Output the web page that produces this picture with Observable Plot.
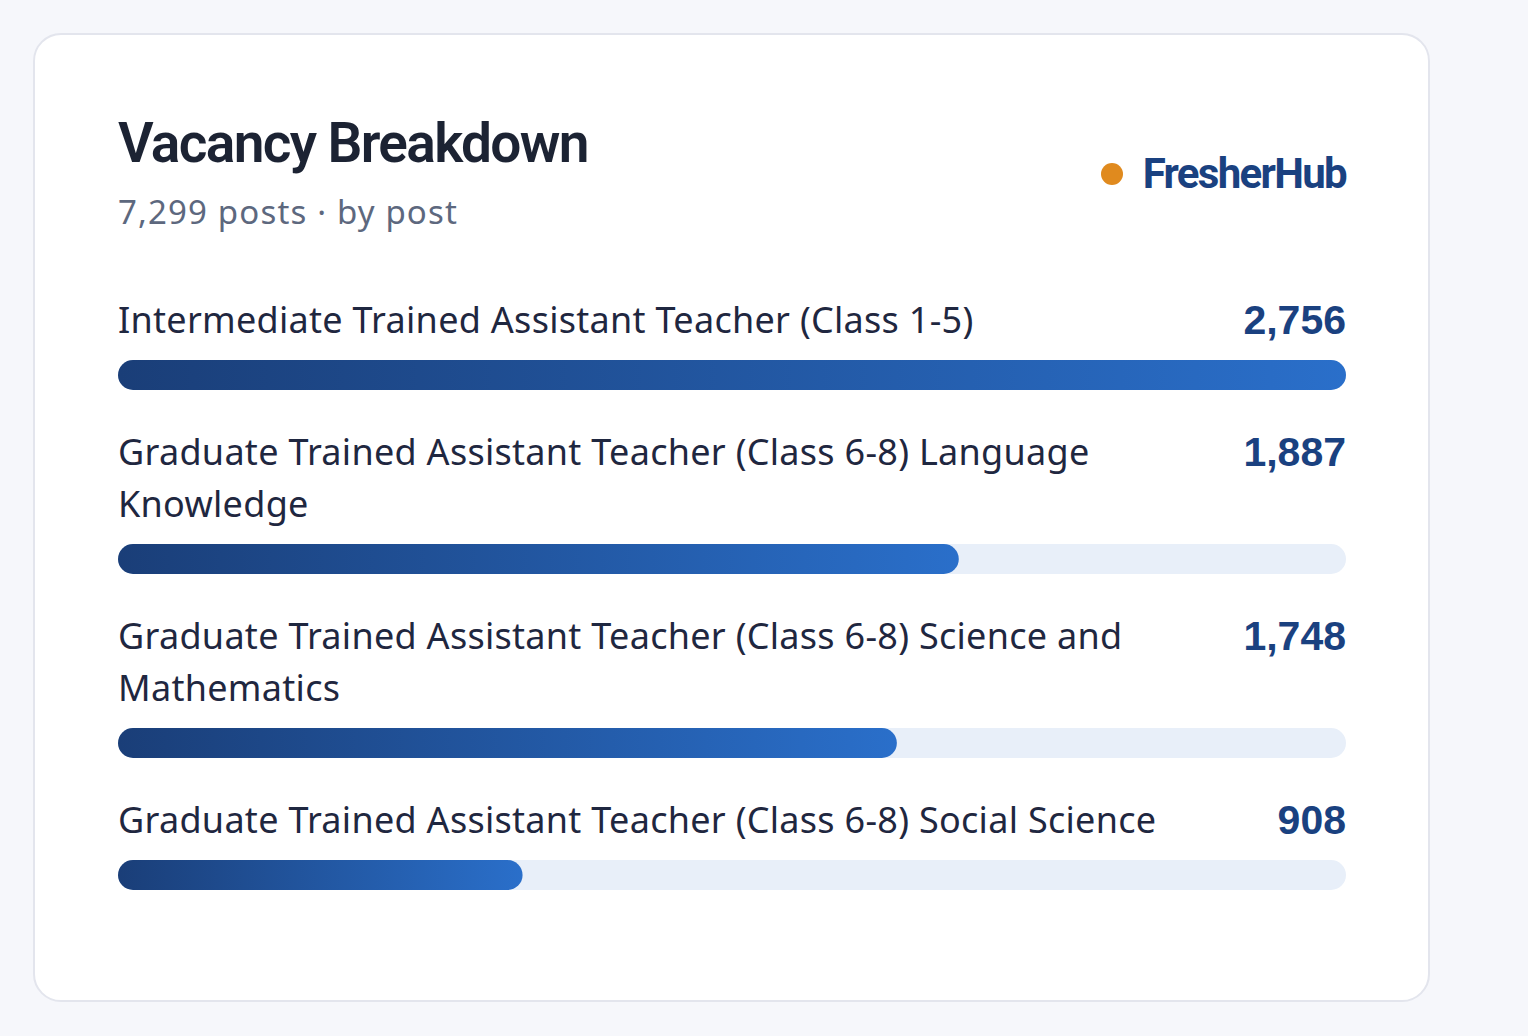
<!DOCTYPE html>
<html>
<head>
<meta charset="utf-8">
<script src="https://cdn.jsdelivr.net/npm/d3@7"></script>
<script src="https://cdn.jsdelivr.net/npm/@observablehq/plot@0.6"></script>
<style>
  html, body { margin: 0; padding: 0; background: #f6f7fb; }
  body { width: 1528px; height: 1036px; position: relative; overflow: hidden; }
  .card {
    position: absolute; left: 33px; top: 33px; width: 1397px; height: 969px;
    box-sizing: border-box; background: #fff; border: 2px solid #e3e5ed; border-radius: 28px;
    padding: 0 82px 0 83px;
  }
  .header { position: relative; height: 259px; }
  .title {
    position: absolute; left: 0; top: 80px; margin: 0;
    font-family: Roboto, "Liberation Sans", sans-serif; font-weight: 600; font-size: 55px;
    line-height: 56px; color: #1c2333; letter-spacing: -0.03em; white-space: nowrap;
  }
  .subtitle {
    position: absolute; left: 0; top: 157px;
    font-family: "Noto Sans", sans-serif; font-size: 33px; line-height: 40px; color: #5d687e;
    letter-spacing: 0.035em; white-space: nowrap;
  }
  .brand {
    position: absolute; right: 0; top: 114px; display: flex; align-items: center;
    font-family: Roboto, "Liberation Sans", sans-serif; font-weight: 700; font-size: 42px; line-height: 50px;
    color: #1a4180; letter-spacing: -0.04em; white-space: nowrap;
  }
  .brand .dot { width: 22px; height: 22px; border-radius: 50%; background: #e08a1e; margin-right: 20px; }
  .row { margin-bottom: 36px; }
  .row-head { display: flex; justify-content: space-between; align-items: flex-start; gap: 60px; margin-bottom: 14px; }
  .label {
    font-family: "Noto Sans", sans-serif; font-size: 36px; line-height: 52px; color: #1f2740;
    letter-spacing: 0.008em; flex: 1 1 auto; max-width: 1100px;
  }
  .value {
    font-family: "Liberation Sans", Arial, sans-serif; font-weight: 700; font-size: 41px; line-height: 52px;
    color: #1a4180; white-space: nowrap; flex: 0 0 auto;
  }
  .bar svg { display: block; }
</style>
</head>
<body>
<div class="card">
  <div class="header">
    <div class="title" id="title"></div>
    <div class="subtitle" id="subtitle"></div>
    <div class="brand"><span class="dot"></span><span id="brand"></span></div>
  </div>
  <div id="rows"></div>
</div>
<script>
const titleText = "Vacancy Breakdown";
const subtitleText = "7,299 posts · by post";
const brandText = "FresherHub";
const posts = [
  "Intermediate Trained Assistant Teacher (Class 1-5)",
  "Graduate Trained Assistant Teacher (Class 6-8) Language Knowledge",
  "Graduate Trained Assistant Teacher (Class 6-8) Science and Mathematics",
  "Graduate Trained Assistant Teacher (Class 6-8) Social Science"
];
const counts = [2756, 1887, 1748, 908];

document.getElementById("title").textContent = titleText;
document.getElementById("subtitle").textContent = subtitleText;
document.getElementById("brand").textContent = brandText;

const maxCount = d3.max(counts);
const fmt = d3.format(",");
const rowsEl = document.getElementById("rows");

posts.forEach((post, i) => {
  const row = document.createElement("div");
  row.className = "row";
  const head = document.createElement("div");
  head.className = "row-head";
  const lab = document.createElement("div");
  lab.className = "label";
  lab.textContent = post;
  const val = document.createElement("div");
  val.className = "value";
  val.textContent = fmt(counts[i]);
  head.appendChild(lab);
  head.appendChild(val);
  row.appendChild(head);

  const datum = [{post, count: counts[i], max: maxCount}];
  const gid = "barGrad" + i;
  const chart = Plot.plot({
    width: 1228,
    height: 30,
    margin: 0,
    style: {background: "transparent"},
    x: {domain: [0, maxCount], axis: null},
    marks: [
      Plot.barX(datum, {x1: 0, x2: "max", fill: "#e8eff9", rx: 15}),
      Plot.barX(datum, {x1: 0, x2: "count", fill: `url(#${gid})`, rx: 15})
    ]
  });
  const defs = d3.select(chart).insert("defs", ":first-child");
  const lg = defs.append("linearGradient").attr("id", gid).attr("x1", "0").attr("x2", "1").attr("y1", "0").attr("y2", "0");
  lg.append("stop").attr("offset", "0%").attr("stop-color", "#1a3e78");
  lg.append("stop").attr("offset", "100%").attr("stop-color", "#2a6fca");
  const barWrap = document.createElement("div");
  barWrap.className = "bar";
  barWrap.appendChild(chart);
  row.appendChild(barWrap);
  rowsEl.appendChild(row);
});
</script>
</body>
</html>
